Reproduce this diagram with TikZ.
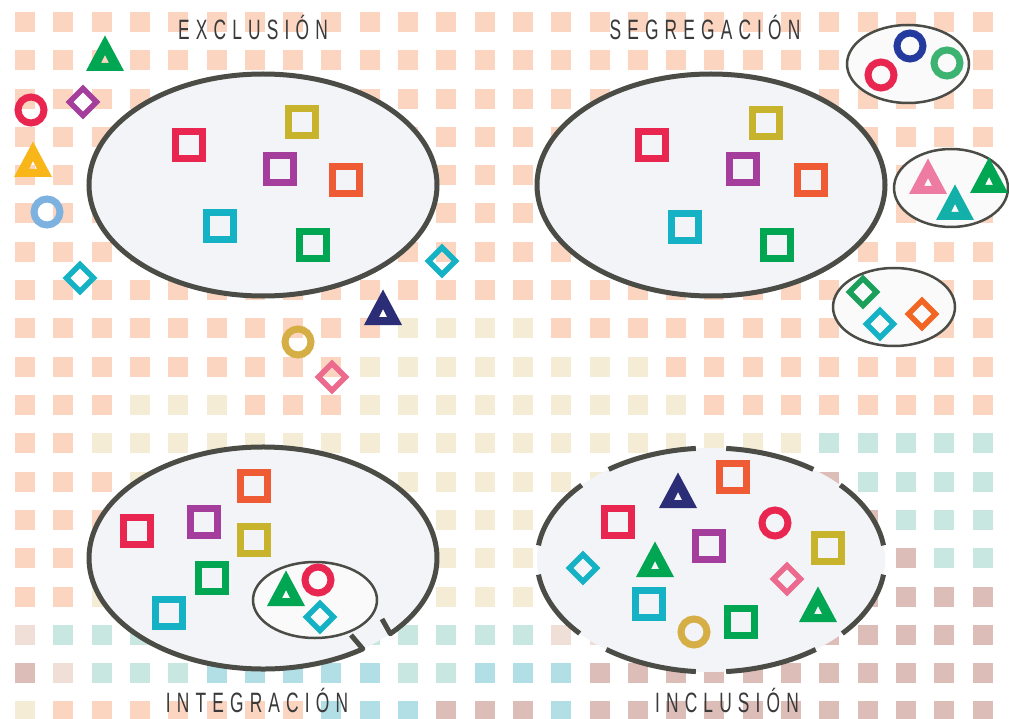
\documentclass[tikz,border=0pt]{standalone}
\usepackage{fontspec}
\newfontfamily\labfont[FakeStretch=0.62,LetterSpace=22]{Liberation Sans}
\usetikzlibrary{calc}
% grid colours
\definecolor{gP}{HTML}{FCD5C1}
\definecolor{gB}{HTML}{F5ECD5}
\definecolor{gT}{HTML}{C8E7E1}
\definecolor{gM}{HTML}{DDBDB7}
\definecolor{gL}{HTML}{B2DFE6}
\definecolor{gK}{HTML}{EFDFD7}
% shape colours
\definecolor{cRed}{HTML}{E8264F}
\definecolor{cOlive}{HTML}{C8B42C}
\definecolor{cPurple}{HTML}{A43D9B}
\definecolor{cOrange}{HTML}{EF5B35}
\definecolor{cCyan}{HTML}{14B2C4}
\definecolor{cGreen}{HTML}{00A651}
\definecolor{cNavy}{HTML}{2B2D76}
\definecolor{cLBlue}{HTML}{7DB2E0}
\definecolor{cYellow}{HTML}{F8B619}
\definecolor{cGold}{HTML}{D5AE45}
\definecolor{cPink}{HTML}{EC6A8D}
\definecolor{cPinkT}{HTML}{EE7BA1}
\definecolor{cTeal}{HTML}{12B0A8}
\definecolor{cGreenC}{HTML}{3CB371}
\definecolor{cBlueC}{HTML}{253A9E}
\definecolor{cOrangeD}{HTML}{F26522}
\definecolor{cGreenD}{HTML}{1AA05A}
\definecolor{ellfill}{HTML}{F3F4F8}
\definecolor{smallfill}{HTML}{FAFAFA}
\definecolor{ellline}{HTML}{4B4C46}
\definecolor{labgray}{HTML}{3A3A3A}
\tikzset{
  pics/sqr/.style={code={\draw[line width=7,draw=#1] (-13.5,-13.5) rectangle (13.5,13.5);}},
  pics/cir/.style={code={\draw[line width=7,draw=#1] (0,0) circle[radius=13];}},
  pics/tri/.style={code={\fill[#1,even odd rule] (0,-19.5)--(-19,16)--(19,16)--cycle (0,0)--(-4,8)--(4,8)--cycle;}},
  pics/dia/.style={code={\draw[line width=5.5,draw=#1] (0,-13.5)--(13.5,0)--(0,13.5)--(-13.5,0)--cycle;}},
  bigell/.style={fill=ellfill,draw=ellline,line width=5},
  smallell/.style={fill=smallfill,draw=ellline,line width=2.5},
  lab/.style={font={\labfont\fontsize{28}{29}\selectfont},text=labgray,inner sep=0pt,anchor=base}
}
\begin{document}
\begin{tikzpicture}[x=1pt,y=-1pt]
\useasboundingbox (0,0) rectangle (1009,719);
\fill[white] (0,0) rectangle (1009,719);
% background grid
\foreach \row [count=\j from 0] in {
 {P,P,P,P,P,P,P,P,P,P,P,P,P,P,P,P,P,P,P,P,P,P,P,P,P,P},
 {P,P,P,P,P,P,P,P,P,P,P,P,P,P,P,P,P,P,P,P,P,P,P,P,P,P},
 {P,P,P,P,P,P,P,P,P,P,P,P,P,P,P,P,P,P,P,P,P,P,P,P,P,P},
 {P,P,P,P,P,P,P,P,P,P,P,P,P,P,P,P,P,P,P,P,P,P,P,P,P,P},
 {P,P,P,P,P,P,P,P,P,P,P,P,P,P,P,P,P,P,P,P,P,P,P,P,P,P},
 {P,P,P,P,P,P,P,P,P,P,P,P,P,P,P,P,P,P,P,P,P,P,P,P,P,P},
 {P,P,P,P,P,P,P,P,P,P,P,P,P,P,P,P,P,P,P,P,P,P,P,P,P,P},
 {P,P,P,P,P,P,P,P,P,P,P,P,P,P,P,P,P,P,P,P,P,P,P,P,P,P},
 {P,P,P,P,P,P,P,P,P,P,B,B,B,B,P,P,P,P,P,P,P,P,P,P,P,P},
 {P,P,P,P,P,P,P,P,P,B,B,B,B,B,B,B,B,P,P,P,P,P,P,P,P,P},
 {P,P,P,B,B,B,P,P,P,B,B,B,B,B,B,B,B,B,P,P,P,P,P,P,P,P},
 {P,P,B,B,B,B,B,B,B,B,B,B,B,B,B,B,B,B,B,B,B,T,T,T,T,T},
 {P,P,P,B,B,B,B,B,B,B,B,B,B,B,B,B,B,B,B,B,B,M,T,T,T,T},
 {P,P,P,B,B,B,B,B,B,B,B,B,B,B,B,B,B,B,B,B,B,B,M,T,T,T},
 {P,P,P,B,B,B,B,B,B,B,B,B,B,B,B,B,B,B,B,B,B,B,B,M,T,T},
 {P,P,B,B,B,B,B,B,B,B,B,B,B,B,B,B,B,B,B,B,B,B,M,M,M,M},
 {K,T,T,T,T,T,T,T,T,T,T,T,T,T,K,K,M,M,M,M,M,M,M,M,M,M},
 {M,K,T,T,T,L,L,L,L,L,T,T,L,L,L,M,M,M,M,M,M,M,M,M,M,M},
 {B,P,P,P,P,P,P,P,L,L,L,M,M,M,L,M,M,M,M,M,M,M,M,M,M,M}} {
  \foreach \c [count=\i from 0] in \row {
    \fill[g\c] ({15+38.3*\i},{12+38.3*\j}) rectangle ++(20,20);
  }
}
% ---------- EXCLUSION ----------
\draw[bigell] (263,185) ellipse[x radius=174, y radius=111];
\pic at (189,145) {sqr=cRed};
\pic at (302,122) {sqr=cOlive};
\pic at (280,169) {sqr=cPurple};
\pic at (346,180) {sqr=cOrange};
\pic at (220,226) {sqr=cCyan};
\pic at (313,245) {sqr=cGreen};
\pic at (105,55) {tri=cGreen};
\pic at (31,110) {cir=cRed};
\pic at (83,102) {dia=cPurple};
\pic at (33,161) {tri=cYellow};
\pic at (47,212) {cir=cLBlue};
\pic at (80,278) {dia=cCyan};
\pic at (442,261) {dia=cCyan};
\pic at (383,309) {tri=cNavy};
\pic at (298,342) {cir=cGold};
\pic at (332,377) {dia=cPink};
% ---------- SEGREGACION ----------
\draw[bigell] (711,185) ellipse[x radius=174, y radius=111];
\pic at (652,145) {sqr=cRed};
\pic at (766,123) {sqr=cOlive};
\pic at (743,169) {sqr=cPurple};
\pic at (811,180) {sqr=cOrange};
\pic at (685,227) {sqr=cCyan};
\pic at (777,245) {sqr=cGreen};
\draw[smallell] (908,64) ellipse[x radius=61, y radius=39];
\pic at (881,75) {cir=cRed};
\pic at (910,46) {cir=cBlueC};
\pic at (947,63) {cir=cGreenC};
\draw[smallell] (951,188) ellipse[x radius=57, y radius=39];
\pic at (928,178) {tri=cPinkT};
\pic at (955,204) {tri=cTeal};
\pic at (989,177) {tri=cGreen};
\draw[smallell] (894,307) ellipse[x radius=61, y radius=39];
\pic at (863,292) {dia=cGreenD};
\pic at (880,324) {dia=cCyan};
\pic at (922,314) {dia=cOrangeD};
% ---------- INTEGRACION ----------
\coordinate (ci) at (263,558);
\fill[ellfill] (ci) ellipse[x radius=174, y radius=111];
\coordinate (tl) at (351,635);
\coordinate (tr) at (382,619);
\draw[ellline,line width=5,line join=round] (tl) -- ($(ci)+(55:174 and 111)$)
  arc[start angle=55, end angle=403, x radius=174, y radius=111] -- (tr);
\pic at (254,486) {sqr=cOrange};
\pic at (137,531) {sqr=cRed};
\pic at (204,522) {sqr=cPurple};
\pic at (254,540) {sqr=cOlive};
\pic at (212,578) {sqr=cGreen};
\pic at (169,613) {sqr=cCyan};
\draw[smallell] (315,600) ellipse[x radius=62, y radius=38];
\pic at (286,590) {tri=cGreen};
\pic at (318,580) {cir=cRed};
\pic at (320,617) {dia=cCyan};
% ---------- INCLUSION ----------
\coordinate (cn) at (711,560);
\fill[ellfill] (cn) ellipse[x radius=174, y radius=112];
\foreach \a/\b in {7.5/41,53/85,95/127,139/172.5,187.5/222,234/265,275/306,318/352.5}
  \draw[ellline,line width=5] ($(cn)+(\a:174 and 112)$) arc[start angle=\a, end angle=\b, x radius=174, y radius=112];
\pic at (733,477) {sqr=cOrange};
\pic at (678,492) {tri=cNavy};
\pic at (618,522) {sqr=cRed};
\pic at (775,523) {cir=cRed};
\pic at (709,546) {sqr=cPurple};
\pic at (828,548) {sqr=cOlive};
\pic at (583,568) {dia=cCyan};
\pic at (655,561) {tri=cGreen};
\pic at (787,579) {dia=cPink};
\pic at (649,604) {sqr=cCyan};
\pic at (818,606) {tri=cGreen};
\pic at (694,632) {cir=cGold};
\pic at (741,622) {sqr=cGreen};
% ---------- labels ----------
\node[lab] (lex) at (253,40) {EXCLUSIÓN};
\node[lab] (lse) at (705,40) {SEGREGACIÓN};
\node[lab] (lin) at (257,712) {INTEGRACIÓN};
\node[lab] (lic) at (727,712) {INCLUSIÓN};
\end{tikzpicture}
\end{document}
